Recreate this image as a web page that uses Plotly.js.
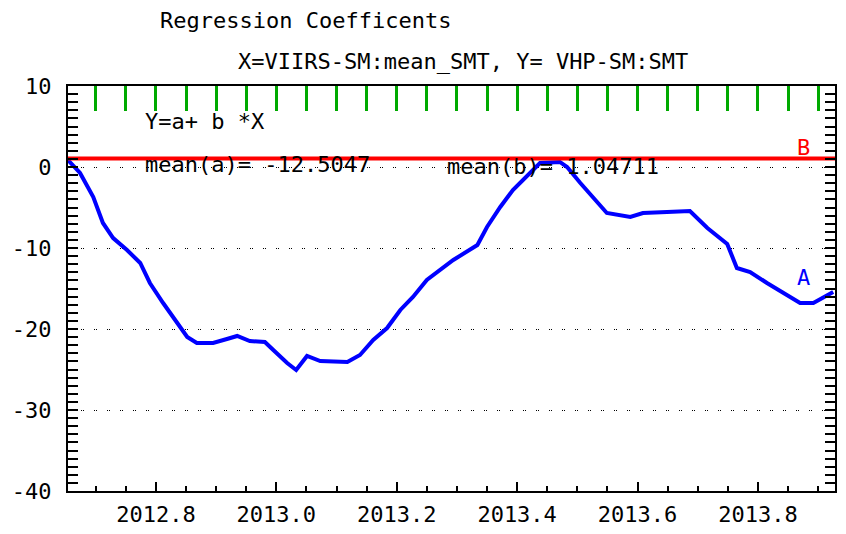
<!DOCTYPE html>
<html>
<head>
<meta charset="utf-8">
<script src="https://cdn.plot.ly/plotly-3.0.1.min.js"></script>
<style>html,body{margin:0;padding:0;background:#fff;}#chart{width:846px;height:534px;}</style>
</head>
<body>
<div id="chart"></div>
<script>
// Series A: regression coefficient a over time
const aX = [2012.654, 2012.674, 2012.696, 2012.712, 2012.729, 2012.752, 2012.774, 2012.790, 2012.812, 2012.835,
            2012.852, 2012.868, 2012.895, 2012.918, 2012.935, 2012.956, 2012.981, 2012.995, 2013.018, 2013.033,
            2013.051, 2013.073, 2013.118, 2013.139, 2013.161, 2013.184, 2013.206, 2013.227, 2013.250, 2013.294,
            2013.334, 2013.350, 2013.372, 2013.393, 2013.422, 2013.438, 2013.471, 2013.483, 2013.505, 2013.526,
            2013.549, 2013.588, 2013.609, 2013.649, 2013.687, 2013.716, 2013.749, 2013.765, 2013.787, 2013.815,
            2013.870, 2013.892, 2013.925];
const aY = [0.86, -0.74, -3.70, -6.91, -8.77, -10.25, -11.85, -14.32, -16.79, -19.26,
            -20.99, -21.73, -21.73, -21.23, -20.86, -21.48, -21.60, -22.59, -24.20, -25.06,
            -23.33, -23.95, -24.07, -23.21, -21.36, -19.88, -17.65, -16.05, -13.95, -11.48,
            -9.63, -7.41, -4.94, -2.84, -0.74, 0.49, 0.62, 0.00, -1.98, -3.83,
            -5.68, -6.17, -5.68, -5.56, -5.43, -7.53, -9.51, -12.47, -12.96, -14.32,
            -16.79, -16.79, -15.43];
// Series B: coefficient b (constant mean)
const bX = [2012.654, 2013.928];
const bY = [1.04711, 1.04711];

const xRange = [2012.654, 2013.928];
const xTickVals = [2012.8, 2013.0, 2013.2, 2013.4, 2013.6, 2013.8];
const xTickText = ["2012.8", "2013.0", "2013.2", "2013.4", "2013.6", "2013.8"];
const yTickVals = [10, 0, -10, -20, -30, -40];
const yTickText = ["10", "0", "-10", "-20", "-30", "-40"];

const titleText = "Regression Coefficents";
const subTitleText = "X=VIIRS-SM:mean_SMT, Y= VHP-SM:SMT";
const eqText = "Y=a+ b *X";
const meanAText = "mean(a)= -12.5047";
const meanBText = "mean(b)= 1.04711";

const FONT = "DejaVu Sans Mono, Liberation Mono, monospace";

const traces = [
  {x: bX, y: bY, xaxis: 'x2', mode: 'lines', line: {color: '#ff0000', width: 4}, hoverinfo: 'skip', showlegend: false},
  {x: aX, y: aY, mode: 'lines', line: {color: '#0000ff', width: 4}, hoverinfo: 'skip', showlegend: false}
];

const layout = {
  width: 846, height: 534,
  margin: {l: 68, r: 11, t: 86, b: 43},
  paper_bgcolor: '#fff', plot_bgcolor: '#fff',
  showlegend: false,
  font: {family: FONT, size: 22, color: '#000'},
  title: {text: titleText, x: 160/846, xref: 'container', xanchor: 'left', y: 1 - 20/534, yref: 'container', yanchor: 'middle',
          font: {family: FONT, size: 22, color: '#000'}},
  xaxis: {
    range: xRange, showgrid: false, zeroline: false,
    showline: true, linecolor: '#000', linewidth: 2, mirror: false,
    tickmode: 'array', tickvals: xTickVals, ticktext: xTickText,
    ticks: 'inside', ticklen: 9, tickwidth: 2, tickcolor: '#000',
    ticklabelstandoff: 3,
    minor: {tickmode: 'linear', tick0: 2012.8, dtick: 0.05, ticks: 'inside', ticklen: 5, tickwidth: 2, tickcolor: '#000', showgrid: false},
    tickfont: {family: FONT, size: 22, color: '#000'}
  },
  xaxis2: {
    overlaying: 'x', side: 'top', anchor: 'y', range: xRange, showgrid: false, zeroline: false,
    showline: true, linecolor: '#000', linewidth: 2, showticklabels: false,
    tickmode: 'linear', tick0: 2012.8, dtick: 0.05,
    ticks: 'inside', ticklen: 25, tickwidth: 3, tickcolor: '#00aa00'
  },
  yaxis: {
    range: [-40, 10], zeroline: false,
    showgrid: true, gridcolor: '#000', gridwidth: 1, griddash: '1px,1px,1px,10px',
    showline: true, linecolor: '#000', linewidth: 2, mirror: 'allticks',
    tickmode: 'array', tickvals: yTickVals, ticktext: yTickText,
    ticks: 'inside', ticklen: 10, tickwidth: 2, tickcolor: '#000',
    ticklabelstandoff: 10,
    minor: {tickmode: 'linear', tick0: 0, dtick: 1, ticks: 'inside', ticklen: 10, tickwidth: 2, tickcolor: '#000', showgrid: false},
    tickfont: {family: FONT, size: 22, color: '#000'}
  },
  annotations: [
    {text: subTitleText, xref: 'paper', yref: 'paper', x: (236-68)/767, y: 1 + (86-62)/405, xanchor: 'left', yanchor: 'middle', showarrow: false,
     font: {family: FONT, size: 22, color: '#000'}},
    {text: eqText, xref: 'x', yref: 'y', x: 2012.779, y: 5.56, xanchor: 'left', yanchor: 'middle', showarrow: false,
     font: {family: FONT, size: 22, color: '#000'}},
    {text: meanAText, xref: 'x', yref: 'y', x: 2012.779, y: 0.3, xanchor: 'left', yanchor: 'middle', showarrow: false,
     font: {family: FONT, size: 22, color: '#000'}},
    {text: meanBText, xref: 'x', yref: 'y', x: 2013.280, y: 0.1, xanchor: 'left', yanchor: 'middle', showarrow: false,
     font: {family: FONT, size: 22, color: '#000'}},
    {text: 'B', xref: 'x', yref: 'y', x: 2013.875, y: 2.35, xanchor: 'center', yanchor: 'middle', showarrow: false,
     font: {family: FONT, size: 22, color: '#ff0000'}},
    {text: 'A', xref: 'x', yref: 'y', x: 2013.875, y: -13.7, xanchor: 'center', yanchor: 'middle', showarrow: false,
     font: {family: FONT, size: 22, color: '#0000ff'}}
  ]
};

Plotly.newPlot('chart', traces, layout, {staticPlot: true, displayModeBar: false});
</script>
</body>
</html>
